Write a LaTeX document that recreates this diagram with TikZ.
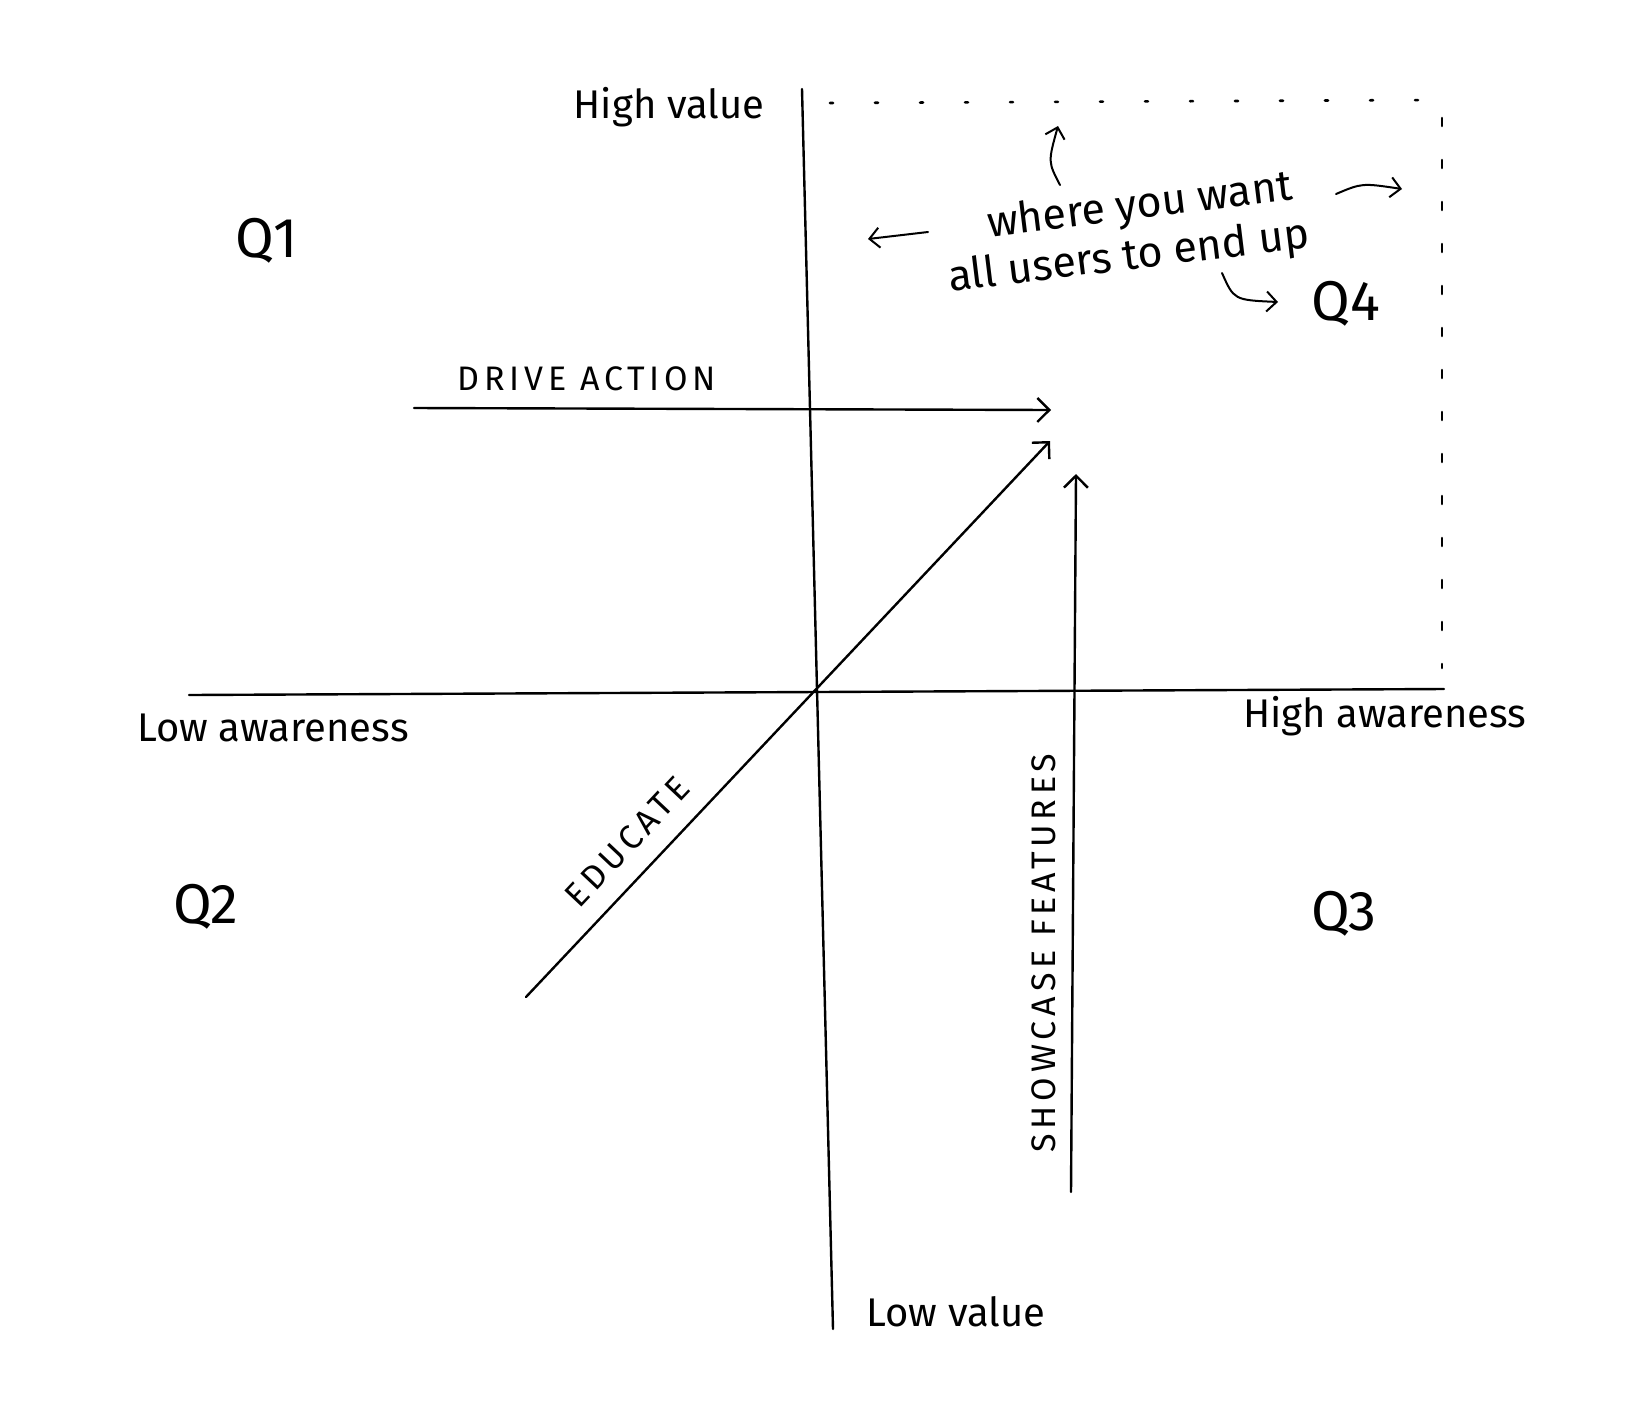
\documentclass[tikz,border=0pt]{standalone}
\usepackage{fontspec}
\setmainfont{Fira Sans}
\newfontfamily\capsfont[LetterSpace=14]{Fira Sans}
\usetikzlibrary{arrows.meta}
\begin{document}
\begin{tikzpicture}[x=1pt,y=-1pt, line width=2.4pt, line cap=round,
  lbl/.style={font=\fontsize{40}{46}\selectfont, inner sep=0pt},
  qlbl/.style={font=\fontsize{56}{62}\selectfont, inner sep=0pt},
  caps/.style={font=\capsfont\fontsize{34}{40}\selectfont, inner sep=0pt},
  note/.style={font=\fontsize{43}{48}\selectfont, inner sep=0pt, rotate=7},
  arr/.style={-{Straight Barb[length=12pt,width=24pt,line width=2.4pt]}},
  sarr/.style={line width=2pt,-{Straight Barb[length=10pt,width=20pt,line width=2pt]}},
  boxline/.style={line width=2.6pt, dash pattern=on 3pt off 42pt}]
\useasboundingbox[fill=white] (0,0) rectangle (1643,1403);

% axes
\coordinate (vtop) at (802,89);
\coordinate (vbot) at (833,1329);
\coordinate (hl) at (189,695);
\coordinate (hr) at (1444,689);
\draw (vtop) -- (vbot);
\draw (hl) -- (hr);

% axis labels
\node[lbl] (hv) at (669,107) {High value};
\node[lbl] (lv) at (956,1312) {Low value};
\node[lbl] (la) at (273,728) {Low awareness};
\node[lbl] (ha) at (1385,716) {High awareness};

% quadrant labels
\node[qlbl] (q1) at (267,241) {Q1};
\node[qlbl] (q2) at (206,907) {Q2};
\node[qlbl] (q3) at (1344,914) {Q3};
\node[qlbl] (q4) at (1346,304) {Q4};

% main arrows
\coordinate (daS) at (414,408);
\coordinate (daE) at (1051,410);
\coordinate (edS) at (526,997);
\coordinate (edE) at (1050,441);
\coordinate (scS) at (1071,1192);
\coordinate (scE) at (1076,474);
\draw[arr] (daS) -- (daE);
\draw[arr] (edS) -- (edE);
\draw[arr] (scS) -- (scE);

\node[caps] (da) at (587,379) {DRIVE ACTION};
\node[caps, rotate=46.7] (ed) at (627,842) {EDUCATE};
\node[caps, rotate=90] (sc) at (1044,953) {SHOWCASE FEATURES};

% dotted target box
\coordinate (b1) at (830,103);
\coordinate (b2) at (1430,100);
\coordinate (b3) at (1442,118);
\coordinate (b4) at (1442,668);
\draw[boxline] (b1) -- (b2);
\draw[boxline, dash pattern=on 8pt off 34pt] (b3) -- (b4);

% annotation
\node[note] (n1) at (1140,207) {where you want};
\node[note] (n2) at (1129,258) {all users to end up};
\coordinate (uS) at (1060,185);
\coordinate (uE) at (1058,126);
\draw[sarr] (uS) .. controls (1048,162) .. (uE);
\coordinate (lS) at (928,232);
\coordinate (lE) at (868,239);
\draw[sarr] (lS) -- (lE);
\coordinate (rS) at (1336,194);
\coordinate (rE) at (1402,189);
\draw[sarr] (rS) .. controls (1362,183) .. (rE);
\coordinate (cS) at (1222,273);
\coordinate (cE) at (1278,302);
\draw[sarr] (cS) .. controls (1234,300) .. (cE);
\end{tikzpicture}
\end{document}
